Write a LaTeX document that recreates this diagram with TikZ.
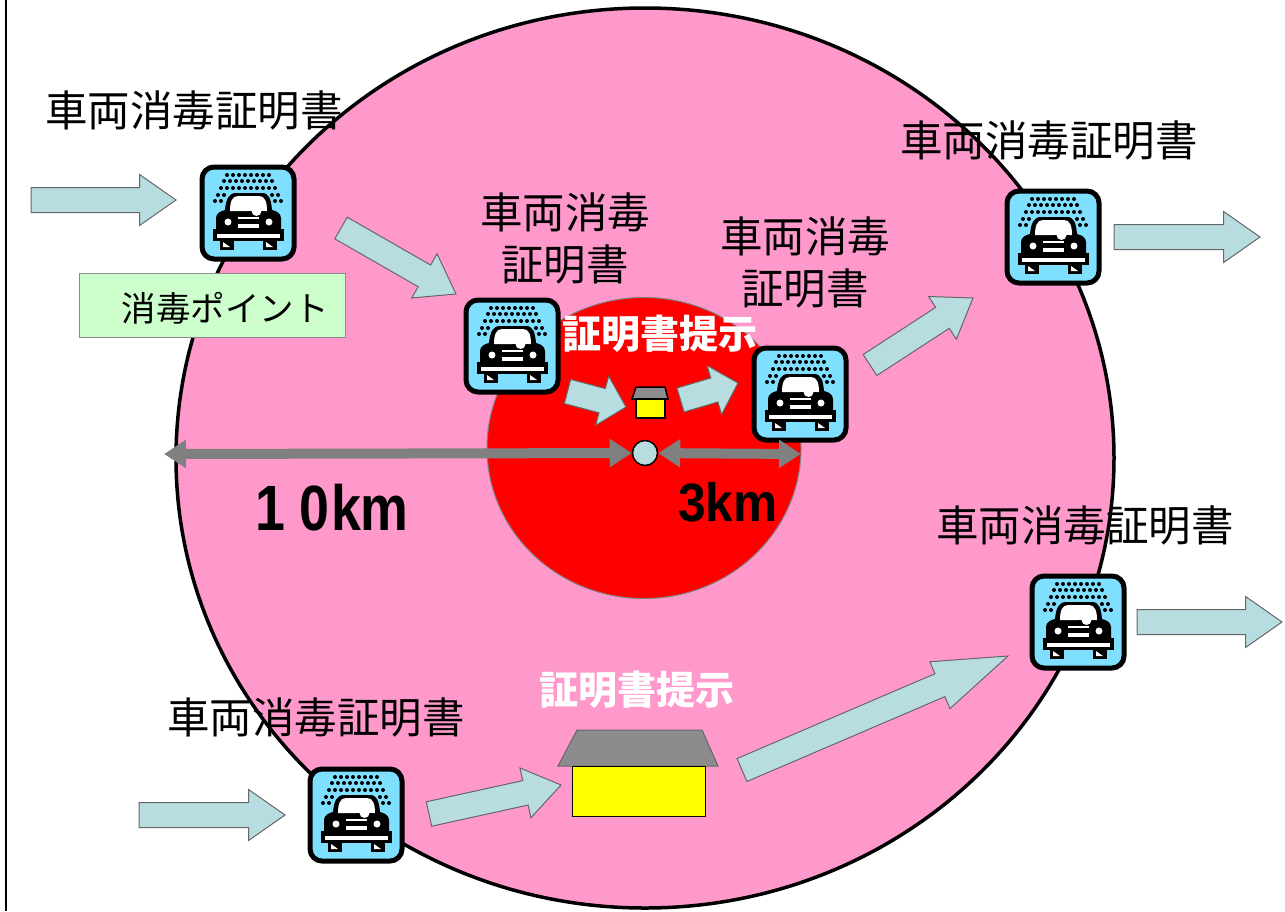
\documentclass[tikz,border=0pt]{standalone}
\usepackage{fontspec}
\setmainfont{Noto Sans CJK JP}
\newfontfamily\distfar[FakeStretch=0.84]{Liberation Sans}
\newfontfamily\distnear[FakeStretch=0.92]{Liberation Sans}
\usetikzlibrary{positioning,calc,arrows.meta,shapes.arrows,shapes.geometric}
\definecolor{zonepink}{HTML}{FF99CC}
\definecolor{arrowblue}{HTML}{B7DDE0}
\definecolor{washblue}{HTML}{7FDFFF}
\definecolor{pointgreen}{HTML}{CCFFCC}
\definecolor{houseyellow}{HTML}{FFFF00}
\tikzstyle{arrow} = [draw=black!60,fill=arrowblue,line width=1pt,single arrow,inner xsep=0pt,inner ysep=12pt,outer sep=0pt,minimum width=50pt,single arrow head extend=13pt,single arrow tip angle=70]
\tikzstyle{shortarrow} = [arrow,single arrow tip angle=92]
\tikzstyle{longarrow} = [arrow,single arrow tip angle=38]
\tikzstyle{dimarrow} = [draw=black!50,line width=10pt,{Triangle[length=22pt,width=27pt]}-{Triangle[length=22pt,width=27pt]}]
\tikzstyle{cert} = [font=\fontsize{42.5}{52}\selectfont,inner sep=0pt,align=center]
\tikzstyle{show} = [font=\fontsize{39}{46}\selectfont\bfseries,text=white,inner sep=0pt]
\tikzstyle{washbox} = [draw,line width=5pt,rounded corners=12pt,fill=washblue,minimum size=92pt,inner sep=0pt]
\tikzset{
  carwash/.pic={
    \node (-box) [washbox] at (0,0) {};
    % water
    \foreach \dx in {-21,-15,...,21} \fill (\dx,-38) circle (2);
    \foreach \dx in {-24,-18,...,24} \fill (\dx,-32) circle (2);
    \foreach \dx in {-27,-21,...,27} \fill (\dx,-25) circle (2);
    \foreach \dx in {-30,-24,24,30} \fill (\dx,-18) circle (2);
    \foreach \dx in {-33,-27,27,33} \fill (\dx,-12) circle (2);
    % car
    \fill (-32,18) -- (-32,5) .. controls (-32,0) and (-27,-2) .. (-23,-3) .. controls (-22,-14) and (-19,-20) .. (-12,-20) -- (14,-20) .. controls (21,-20) and (23,-14) .. (24,-3) .. controls (28,-2) and (33,0) .. (33,5) -- (33,18) -- cycle;
    \fill[white] (-18,-2) .. controls (-18,-11) and (-16,-17) .. (-10,-17) -- (11,-17) .. controls (17,-17) and (19,-11) .. (19,-2) -- cycle;
    \fill (0.5,-2) arc (180:0:8) -- cycle;
    \fill[white] (3.5,-2) arc (180:0:5) -- cycle;
    \fill (-35,16) rectangle (36,28);
    \fill[white] (-31,20.5) rectangle (32,24.5);
    \fill (-28,27) rectangle (-14,37);
    \fill (15,27) rectangle (29,37);
    \fill[white] (-25,29) -- (-18,34) -- (-25,34) -- cycle;
    \fill[white] (18,29) -- (25,34) -- (18,34) -- cycle;
    \fill[white] (-20,9) circle (3.5);
    \fill[white] (21,9) circle (3.5);
    \fill[white] (-10,3.5) rectangle (11,6);
    \fill[white] (-10,11) rectangle (11,14.5);
  }
}
\newcommand{\flowarrow}[4][arrow]{%
  \coordinate (#2-from) at (#3);
  \coordinate (#2-to) at (#4);
  \path let \p1=($(#2-to)-(#2-from)$), \n1={atan2(\y1,\x1)}, \n2={veclen(\x1,\y1)} in
    node (#2) [#1,minimum height=\n2,rotate=\n1,anchor=tail] at (#2-from) {};
}

\begin{document}
\begin{tikzpicture}[x=1pt,y=-1pt]
    \useasboundingbox (0,0) rectangle (1285,911);
    \begin{scope}
    \clip (0,0) rectangle (1285,911);
    \draw [line width=2.5pt] (6,0) -- (6,911);

    % zones
    \node (zone-far) [draw,line width=3.5pt,fill=zonepink,ellipse,minimum width=938pt,minimum height=900pt,inner sep=0pt] at (645,458) {};
    \node (zone-near) [draw=black!50,line width=1pt,fill=red,ellipse,minimum width=314pt,minimum height=301pt,inner sep=0pt] at (644,448) {};
    \end{scope}

    \node (point) [draw=black!45,line width=1pt,fill=pointgreen,minimum width=266pt,minimum height=64pt,inner sep=0pt] at (212,305) {};
    \node (point-text) [font=\fontsize{34.5}{40}\selectfont,inner sep=0pt] at (225,308) {消毒ポイント};

    % wash points
    \pic (wash-a) at (248,213) {carwash};
    \pic (wash-b) at (512,346) {carwash};
    \pic (wash-c) at (800,394) {carwash};
    \pic (wash-d) at (1053,237) {carwash};
    \pic (wash-e) at (1078,622) {carwash};
    \pic (wash-f) at (356,815) {carwash};

    % flow
    \flowarrow{flow-a}{31,200}{176,200}
    \flowarrow{flow-b}{341,228}{456,294}
    \flowarrow[shortarrow]{flow-c}{567.5,391.5}{626,407}
    \flowarrow[shortarrow]{flow-d}{680.5,400}{738,383}
    \flowarrow{flow-e}{870,365}{973,298}
    \flowarrow{flow-f}{1114,237}{1260,237}
    \flowarrow{flow-g}{1137,622}{1282,622}
    \flowarrow{flow-h}{139,815}{285,815}
    \flowarrow{flow-i}{429,814}{561,785}
    \flowarrow[longarrow]{flow-j}{742,770}{1008,656}

    % small house
    \draw [line width=1.5pt,fill=black!45] (632,399) -- (636,387) -- (665,387) -- (668,399) -- cycle;
    \node (house-small) [draw,line width=1.5pt,fill=houseyellow,minimum width=29pt,minimum height=19pt,inner sep=0pt] at (650.5,408.5) {};

    % big house
    \draw [line width=1pt,draw=black!60,fill=black!45] (558,766) -- (577,730) -- (702,730) -- (718,766) -- cycle;
    \node (house-big) [draw,line width=1pt,fill=houseyellow,minimum width=133pt,minimum height=50pt,inner sep=0pt] at (638.5,791) {};

    % radius
    \node (hub) [draw,line width=1.5pt,fill=arrowblue,circle,minimum size=25pt,inner sep=0pt] at (645,453) {};
    \coordinate (dim-left) at (164,454);
    \coordinate (dim-right) at (801,454);
    \draw [dimarrow] (dim-left) -- (hub);
    \draw [dimarrow] (hub) -- (dim-right);

    % labels
    \node (label-a) [cert] at (194,110) {車両消毒証明書};
    \node (label-b) [cert] at (565,238) {車両消毒\\証明書};
    \node (label-c) [cert] at (805,262) {車両消毒\\証明書};
    \node (label-d) [cert] at (1049,140) {車両消毒証明書};
    \node (label-e) [cert] at (1085,525) {車両消毒証明書};
    \node (label-f) [cert] at (316,717) {車両消毒証明書};
    \node (show-a) [show] at (660,334) {証明書提示};
    \node (show-b) [show] at (637,690) {証明書提示};
    \node (dist-far) [font=\fontsize{64}{70}\selectfont\bfseries\distfar,inner sep=0pt] at (332,508) {1\hspace{14pt}0\hspace{2pt}km};
    \node (dist-near) [font=\fontsize{54}{60}\selectfont\bfseries\distnear,inner sep=0pt] at (728,502) {3km};
\end{tikzpicture}
\end{document}
